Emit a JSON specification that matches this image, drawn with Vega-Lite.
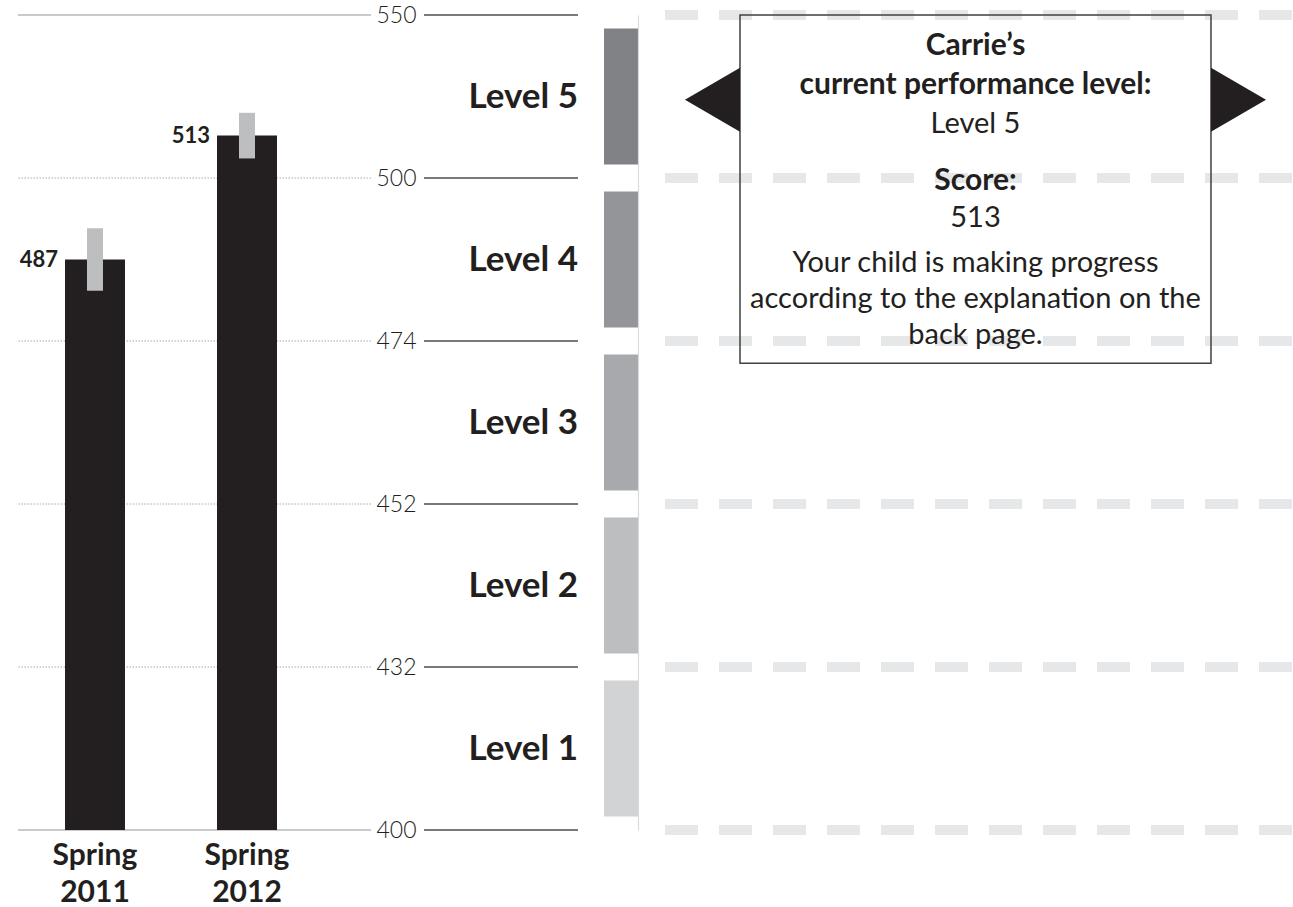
{
  "$schema": "https://vega.github.io/schema/vega-lite/v6.json",
  "background": "white",
  "padding": {"left": 17, "top": 4, "right": 0, "bottom": 0},
  "config": {
    "view": {"stroke": null},
    "font": "Lato"
  },
  "datasets": {
    "scores": [
      {"term": "Spring 2011", "score": 487, "low": 482, "high": 492},
      {"term": "Spring 2012", "score": 513, "low": 506, "high": 520}
    ],
    "thresholds": [
      {"value": 550}, {"value": 500}, {"value": 474}, {"value": 452}, {"value": 432}, {"value": 400}
    ],
    "levels": [
      {"level": "Level 5", "low": 500, "high": 550},
      {"level": "Level 4", "low": 474, "high": 500},
      {"level": "Level 3", "low": 452, "high": 474},
      {"level": "Level 2", "low": 432, "high": 452},
      {"level": "Level 1", "low": 400, "high": 432}
    ],
    "student": [
      {"student": "Carrie", "level": "Level 5", "score": 513}
    ]
  },
  "spacing": 6,
  "hconcat": [
    {
      "width": 353,
      "height": 815,
      "layer": [
        {
          "data": {"name": "thresholds"},
          "transform": [{"filter": "datum.value == 400 || datum.value == 550"}],
          "mark": {"type": "rule", "color": "#939598", "strokeWidth": 1},
          "encoding": {
            "y": {"field": "value", "type": "quantitative", "title": null, "scale": {"domain": [400, 432, 452, 474, 500, 550], "range": [815, 652, 489, 326, 163, 0], "zero": false, "nice": false},
              "axis": {"orient": "right", "values": [400, 432, 452, 474, 500, 550], "title": null, "ticks": false, "domain": false, "grid": false, "labelFontSize": 23, "labelFont": "Lato", "labelFontWeight": 300, "labelColor": "#231f20", "labelPadding": 5, "labelFlush": false, "labelOverlap": false, "minExtent": 0}}
          }
        },
        {
          "data": {"name": "thresholds"},
          "transform": [{"filter": "datum.value != 400 && datum.value != 550"}],
          "mark": {"type": "rule", "color": "#a7a9ac", "strokeWidth": 1, "strokeDash": [1.5, 1.5]},
          "encoding": {
            "y": {"field": "value", "type": "quantitative", "title": null, "scale": {"domain": [400, 432, 452, 474, 500, 550], "range": [815, 652, 489, 326, 163, 0], "zero": false, "nice": false}}
          }
        },
        {
          "data": {"name": "scores"},
          "mark": {"type": "bar", "color": "#231f20"},
          "encoding": {
            "x": {"field": "term", "type": "nominal", "sort": null, "title": null,
              "scale": {"paddingInner": 0.6053, "paddingOuter": 0.4638, "align": 0.3333},
              "axis": {"title": null, "labelExpr": "split(datum.label, ' ')", "labelAngle": 0, "ticks": false, "domain": false, "labelFontSize": 30, "labelFontWeight": "bold", "labelColor": "#231f20", "labelLineHeight": 37, "labelPadding": 10}},
            "y": {"field": "score", "type": "quantitative", "title": null, "scale": {"domain": [400, 432, 452, 474, 500, 550], "range": [815, 652, 489, 326, 163, 0], "zero": false, "nice": false}},
            "y2": {"datum": 400}
          }
        },
        {
          "data": {"name": "scores"},
          "mark": {"type": "bar", "color": "#bcbec0", "width": {"band": 0.2667}},
          "encoding": {
            "x": {"field": "term", "type": "nominal", "sort": null, "title": null},
            "y": {"field": "low", "type": "quantitative", "title": null, "scale": {"domain": [400, 432, 452, 474, 500, 550], "range": [815, 652, 489, 326, 163, 0], "zero": false, "nice": false}},
            "y2": {"field": "high"}
          }
        },
        {
          "data": {"name": "scores"},
          "mark": {"type": "text", "align": "right", "baseline": "middle", "dx": -7, "fontSize": 22, "fontWeight": "bold", "color": "#231f20"},
          "encoding": {
            "x": {"field": "term", "type": "nominal", "sort": null, "bandPosition": 0, "title": null},
            "y": {"field": "score", "type": "quantitative", "title": null, "scale": {"domain": [400, 432, 452, 474, 500, 550], "range": [815, 652, 489, 326, 163, 0], "zero": false, "nice": false}},
            "text": {"field": "score", "type": "quantitative"}
          }
        }
      ]
    },
    {
      "spacing": 25,
      "hconcat": [
        {
          "width": 154,
          "height": 815,
          "layer": [
            {
              "data": {"name": "thresholds"},
              "mark": {"type": "rule", "color": "#4d4d4f", "strokeWidth": 1.5},
              "encoding": {
                "y": {"field": "value", "type": "quantitative", "scale": {"domain": [400, 432, 452, 474, 500, 550], "range": [815, 652, 489, 326, 163, 0], "zero": false, "nice": false}, "axis": null}
              }
            },
            {
              "data": {"name": "levels"},
              "mark": {"type": "text", "align": "right", "baseline": "middle", "fontSize": 35, "fontWeight": "bold", "color": "#231f20"},
              "encoding": {
                "y": {"field": "level", "type": "nominal", "scale": {"type": "band", "domain": ["Level 5", "Level 4", "Level 3", "Level 2", "Level 1"], "paddingInner": 0.1656, "paddingOuter": 0.0828}, "bandPosition": 0.5, "axis": null},
                "x": {"value": "width"},
                "text": {"field": "level", "type": "nominal"}
              }
            }
          ],
          "resolve": {"scale": {"y": "independent"}}
        },
        {
          "spacing": 21,
          "hconcat": [
            {
              "width": 34,
              "height": 815,
              "data": {"name": "levels"},
              "mark": {"type": "rect"},
              "encoding": {
                "y": {"field": "level", "type": "nominal", "scale": {"type": "band", "domain": ["Level 5", "Level 4", "Level 3", "Level 2", "Level 1"], "paddingInner": 0.1656, "paddingOuter": 0.0828},
                  "axis": {"orient": "right", "title": null, "labels": false, "ticks": false, "domain": true, "domainColor": "#d9dadb", "domainWidth": 1.2, "minExtent": 0, "maxExtent": 0}},
                "x": {"value": 0},
                "x2": {"value": "width"},
                "color": {"field": "level", "type": "nominal", "scale": {"domain": ["Level 5", "Level 4", "Level 3", "Level 2", "Level 1"], "range": ["#808285", "#939598", "#a7a9ac", "#bcbec0", "#d1d3d4"]}, "legend": null}
              }
            },
            {
              "width": 628,
              "height": 815,
              "layer": [
                {
                  "data": {"name": "thresholds"},
                  "mark": {"type": "rule", "color": "#e6e7e8", "strokeWidth": 10, "strokeDash": [33, 21]},
                  "encoding": {
                    "y": {"field": "value", "type": "quantitative", "scale": {"domain": [400, 432, 452, 474, 500, 550], "range": [815, 652, 489, 326, 163, 0], "zero": false, "nice": false}, "axis": null}
                  }
                },
                {
                  "data": {"name": "student"},
                  "mark": {"type": "rect", "fill": "transparent", "stroke": "#414042", "strokeWidth": 1.5},
                  "encoding": {
                    "x": {"field": "student", "type": "nominal", "scale": {"paddingInner": 0, "paddingOuter": 0.16667, "align": 0.484}, "axis": null},
                    "y": {"datum": 550, "type": "quantitative", "scale": {"domain": [400, 432, 452, 474, 500, 550], "range": [815, 652, 489, 326, 163, 0], "zero": false, "nice": false}, "axis": null},
                    "y2": {"datum": 471}
                  }
                },
                {
                  "data": {"name": "student"},
                  "mark": {"type": "point", "filled": true, "opacity": 1, "shape": "M 0 -0.9 L -1.72 0.1 L 0 1.1 Z", "size": 4096, "color": "#231f20"},
                  "encoding": {
                    "x": {"field": "student", "type": "nominal", "bandPosition": 0, "axis": null},
                    "y": {"field": "level", "type": "nominal", "scale": {"type": "band", "domain": ["Level 5", "Level 4", "Level 3", "Level 2", "Level 1"], "paddingInner": 0.1656, "paddingOuter": 0.0828}, "bandPosition": 0.5, "axis": null}
                  }
                },
                {
                  "data": {"name": "student"},
                  "mark": {"type": "point", "filled": true, "opacity": 1, "shape": "M 0 -0.9 L 1.72 0.1 L 0 1.1 Z", "size": 4096, "color": "#231f20"},
                  "encoding": {
                    "x": {"field": "student", "type": "nominal", "bandPosition": 1, "axis": null},
                    "y": {"field": "level", "type": "nominal", "scale": {"type": "band", "domain": ["Level 5", "Level 4", "Level 3", "Level 2", "Level 1"], "paddingInner": 0.1656, "paddingOuter": 0.0828}, "bandPosition": 0.5, "axis": null}
                  }
                },
                {
                  "data": {"name": "student"},
                  "mark": {"type": "text", "text": ["Carrie’s", "current performance level:"], "align": "center", "baseline": "alphabetic", "fontSize": 30, "fontWeight": "bold", "lineHeight": 39, "dy": 40, "color": "#231f20"},
                  "encoding": {
                    "x": {"field": "student", "type": "nominal", "bandPosition": 0.5, "axis": null},
                    "y": {"datum": 550, "type": "quantitative", "scale": {"domain": [400, 432, 452, 474, 500, 550], "range": [815, 652, 489, 326, 163, 0], "zero": false, "nice": false}, "axis": null}
                  }
                },
                {
                  "data": {"name": "student"},
                  "mark": {"type": "text", "align": "center", "baseline": "alphabetic", "fontSize": 29, "dy": 118, "color": "#231f20"},
                  "encoding": {
                    "x": {"field": "student", "type": "nominal", "bandPosition": 0.5, "axis": null},
                    "y": {"datum": 550, "type": "quantitative", "scale": {"domain": [400, 432, 452, 474, 500, 550], "range": [815, 652, 489, 326, 163, 0], "zero": false, "nice": false}, "axis": null},
                    "text": {"field": "level", "type": "nominal"}
                  }
                },
                {
                  "data": {"name": "student"},
                  "mark": {"type": "text", "text": "Score:", "align": "center", "baseline": "alphabetic", "fontSize": 30, "fontWeight": "bold", "dy": 175, "color": "#231f20"},
                  "encoding": {
                    "x": {"field": "student", "type": "nominal", "bandPosition": 0.5, "axis": null},
                    "y": {"datum": 550, "type": "quantitative", "scale": {"domain": [400, 432, 452, 474, 500, 550], "range": [815, 652, 489, 326, 163, 0], "zero": false, "nice": false}, "axis": null}
                  }
                },
                {
                  "data": {"name": "student"},
                  "mark": {"type": "text", "align": "center", "baseline": "alphabetic", "fontSize": 29, "dy": 212, "color": "#231f20"},
                  "encoding": {
                    "x": {"field": "student", "type": "nominal", "bandPosition": 0.5, "axis": null},
                    "y": {"datum": 550, "type": "quantitative", "scale": {"domain": [400, 432, 452, 474, 500, 550], "range": [815, 652, 489, 326, 163, 0], "zero": false, "nice": false}, "axis": null},
                    "text": {"field": "score", "type": "quantitative"}
                  }
                },
                {
                  "data": {"name": "student"},
                  "mark": {"type": "text", "text": ["Your child is making progress", "according to the explanation on the", "back page."], "align": "center", "baseline": "alphabetic", "fontSize": 29, "lineHeight": 36, "dy": 257, "color": "#231f20"},
                  "encoding": {
                    "x": {"field": "student", "type": "nominal", "bandPosition": 0.5, "axis": null},
                    "y": {"datum": 550, "type": "quantitative", "scale": {"domain": [400, 432, 452, 474, 500, 550], "range": [815, 652, 489, 326, 163, 0], "zero": false, "nice": false}, "axis": null}
                  }
                }
              ],
              "resolve": {"scale": {"y": "independent"}}
            }
          ]
        }
      ]
    }
  ]
}
